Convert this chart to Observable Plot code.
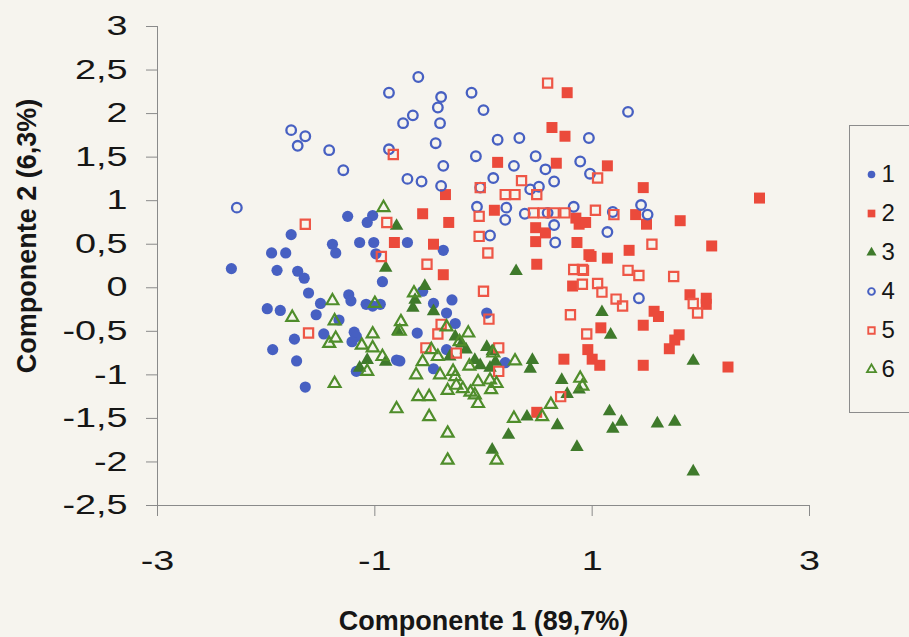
<!DOCTYPE html>
<html>
<head>
<meta charset="utf-8">
<script src="https://cdn.jsdelivr.net/npm/d3@7"></script>
<script src="https://cdn.jsdelivr.net/npm/@observablehq/plot@0.6"></script>
<style>
  html, body { margin: 0; padding: 0; background: #f6f4ee; }
  #wrap { position: relative; width: 909px; height: 637px; overflow: hidden; background: #f6f4ee; font-family: "Liberation Sans", Arial, sans-serif; }
  #chart { position: absolute; left: 0; top: 0; }
  #legend { position: absolute; left: 849px; top: 125px; width: 90px; height: 288px; border: 1px solid #8c8c8c; box-sizing: border-box; background: #f6f4ee; }
</style>
</head>
<body>
<div id="wrap"><div id="chart"></div><div id="legend"></div></div>
<script>
// ---- data ----
const seriesNames = ["1", "2", "3", "4", "5", "6"];
const xTicks = [-3, -1, 1, 3];
const yTicks = [-2.5, -2, -1.5, -1, -0.5, 0, 0.5, 1, 1.5, 2, 2.5, 3];
const xTitle = "Componente 1 (89,7%)";
const yTitle = "Componente 2 (6,3%)";

const s1 = [[-1.25,0.82],[-1.02,0.83],[-1.07,0.75],[-1.77,0.61],[-1.39,0.50],[-1.36,0.40],[-1.14,0.52],[-1.01,0.52],[-0.99,0.39],[-1.95,0.40],[-1.82,0.40],[-2.32,0.22],[-1.90,0.20],[-1.71,0.19],[-1.65,0.11],[-0.93,0.07],
 [-1.61,-0.06],[-1.50,-0.18],[-1.99,-0.24],[-1.87,-0.26],[-1.54,-0.31],[-1.33,-0.37],[-1.74,-0.59],[-1.47,-0.53],[-1.94,-0.71],[-1.72,-0.84],[-1.64,-1.14],[-1.24,-0.08],[-1.22,-0.15],[-1.08,-0.19],[-1.02,-0.21],[-0.95,-0.19],[-1.19,-0.51],[-1.17,-0.56],[-1.21,-0.62],[-1.17,-0.96],[-0.80,-0.83],
 [-0.70,0.52],[-0.37,0.43],[-0.56,-0.04],[-0.46,-0.18],[-0.29,-0.14],[-0.34,-0.29],[-0.26,-0.41],[-0.61,-0.52],[0.03,-0.29],[-0.34,-0.71],[-0.77,-0.84],[-0.46,-0.93],[0.20,-0.86]];

const s2 = [[0.77,2.24],[0.63,1.84],[0.75,1.74],[0.13,1.44],[0.67,1.43],[-0.35,1.07],[-0.56,0.85],[-0.32,0.75],[0.10,0.89],[-0.82,0.52],[-0.46,0.50],[-0.37,0.15],[0.49,0.27],[0.48,0.69],[0.48,0.53],[0.57,0.63],[0.88,0.73],[0.86,0.52],[0.97,0.38],[0.85,0.80],
 [1.14,1.40],[1.47,1.15],[2.54,1.03],[1.40,0.84],[1.50,0.73],[1.81,0.77],[0.94,0.75],[1.34,0.43],[2.10,0.48],[0.99,0.36],[1.14,0.34],
 [1.90,-0.08],[2.05,-0.12],[2.05,-0.19],[1.57,-0.27],[1.61,-0.33],[1.47,-0.43],[1.08,-0.46],[1.80,-0.54],[1.76,-0.60],[1.71,-0.70],[0.96,-0.71],[1.00,-0.82],[1.07,-0.89],[1.47,-0.89],[2.25,-0.91],
 [0.82,0.02],[0.74,-0.82],[0.49,-1.43]];

const s3 = [[-0.80,0.71],[-0.90,0.23],[0.30,0.19],[-0.79,-0.50],[-1.14,-0.92],[-1.07,-0.83],[-0.90,-0.85],[-0.54,0.02],[-0.63,-0.14],[-0.65,-0.23],[-0.46,-0.27],
 [-0.26,-0.56],[-0.20,-0.64],[-0.16,-0.71],[-0.08,-0.83],[-0.03,-0.89],[0.03,-0.68],[0.08,-0.73],[0.11,-0.85],[0.06,-0.92],[0.45,-0.83],[0.43,-0.93],[0.72,-1.06],[0.88,-1.17],[0.86,-1.83],[-0.31,-0.79],
 [1.09,-0.28],[1.17,-0.54],[1.93,-0.84],[1.16,-1.42],[1.19,-1.62],[1.27,-1.54],[1.60,-1.56],[1.76,-1.54],[1.93,-2.11],[0.40,-1.48],[0.68,-1.58],[0.23,-1.69],[0.08,-1.86],[0.77,-1.22]];

const s4 = [[-0.87,2.24],[-1.77,1.81],[-1.64,1.74],[-1.71,1.63],[-1.42,1.58],[-1.29,1.35],[-0.87,1.59],[-2.27,0.92],
 [-0.60,2.42],[-0.39,2.19],[-0.42,2.07],[-0.11,2.24],[0.00,2.04],[-0.65,1.98],[-0.74,1.89],[-0.40,1.89],[-0.44,1.66],[0.13,1.70],[0.33,1.72],[0.97,1.72],[-0.07,1.51],[0.48,1.51],[-0.37,1.40],[0.28,1.40],[0.57,1.36],[0.89,1.45],[0.09,1.26],[0.65,1.22],[-0.70,1.25],[-0.57,1.22],[-0.39,1.17],[-0.03,1.15],[0.43,1.13],[0.51,1.16],[-0.06,0.93],[0.21,0.92],[0.20,0.78],[0.38,0.85],[0.59,0.86],[0.65,0.72],[0.83,0.93],[0.06,0.60],[0.66,0.52],
 [1.33,2.02],[0.98,1.31],[1.45,0.95],[1.51,0.84],[1.19,0.87],[1.14,0.64],[1.43,-0.12]];

const s5 = [[0.59,2.35],[-0.83,1.53],[-1.64,0.73],[-0.89,0.75],[-0.94,0.36],[0.35,1.23],[0.20,1.07],[0.29,1.07],[-0.03,1.15],[0.49,1.07],[-0.04,0.82],[-0.04,0.59],[0.04,0.40],[-0.52,0.27],[0.46,0.86],[0.55,0.86],[0.65,0.86],[0.75,0.86],[0.83,0.21],[0.91,0.21],
 [1.05,1.26],[1.03,0.89],[1.20,0.84],[1.55,0.50],[0.92,0.20],[1.33,0.20],[1.43,0.14],[1.75,0.13],
 [0.91,0.04],[1.05,0.05],[1.09,-0.05],[1.22,-0.13],[1.28,-0.21],[1.93,-0.18],[1.97,-0.29],[0.95,-0.53],
 [-1.61,-0.52],[0.00,-0.04],[0.80,-0.31],[0.05,-0.36],[-0.42,-0.53],[-0.53,-0.69],[0.14,-0.69],[0.14,-0.96],[0.71,-1.25],[-0.39,-0.42],[-0.25,-0.75]];

const s6 = [[-0.92,0.92],[-1.39,-0.15],[-1.00,-0.18],[-1.76,-0.34],[-1.37,-0.38],[-1.36,-0.58],[-1.42,-0.64],[-1.02,-0.53],[-1.12,-0.66],[-1.02,-0.69],[-0.93,-0.79],[-1.07,-0.96],[-1.37,-1.10],[-0.80,-1.39],
 [-0.64,-0.06],[-0.76,-0.39],[-0.77,-0.50],[-0.14,-0.52],[-0.22,-0.62],[-0.48,-0.71],[-0.42,-0.79],[-0.56,-0.85],[-0.62,-1.00],[-0.40,-1.00],[-0.28,-0.96],[-0.26,-1.02],[-0.13,-0.90],[-0.05,-1.08],
 [0.09,-0.75],[0.06,-1.06],[0.12,-1.10],[-0.25,-1.12],[-0.33,-1.18],[-0.60,-1.25],[-0.50,-1.25],[-0.50,-1.48],[-0.08,-1.23],[-0.05,-1.33],[0.28,-1.50],[0.54,-1.48],[0.62,-1.34],[-0.33,-1.67],[-0.33,-1.98],[0.12,-1.98],[0.89,-1.04],[0.29,-0.84],[0.91,-1.13],
 [-0.34,-0.45],[-0.19,-1.16],[-0.12,-1.20],[0.07,-1.17]];

const seriesData = [s1, s2, s3, s4, s5, s6];

// ---- styles ----
const BLUE = "#4760c2", RED = "#eb4a3b", RED_O = "#ee5646", GREEN = "#3f7a2b", GREEN_O = "#4f8d2b";
const styles = [
  {symbol: "circle",   r: 5.6, fill: BLUE,  stroke: "none", strokeWidth: 0},
  {symbol: "square",   r: 6.2, fill: RED,   stroke: "none", strokeWidth: 0},
  {symbol: "triangle", r: 5.0, fill: GREEN, stroke: "none", strokeWidth: 0},
  {symbol: "circle",   r: 4.8, fill: "none", stroke: BLUE,  strokeWidth: 2.3},
  {symbol: "square",   r: 5.2, fill: "none", stroke: RED_O, strokeWidth: 2.2},
  {symbol: "triangle", r: 4.4, fill: "none", stroke: GREEN_O, strokeWidth: 2.2}
];
const legendScale = [0.68, 0.7, 0.75, 0.7, 0.7, 0.75];

const fmt = d => String(d).replace(".", ",");
const FONT = "'Liberation Sans', Arial, sans-serif";

const dotMarks = seriesData.map((pts, i) =>
  Plot.dot(pts, {x: d => d[0], y: d => d[1], ...styles[i]})
);

const chart = Plot.plot({
  width: 909,
  height: 637,
  marginLeft: 157,
  marginRight: 100,
  marginTop: 26,
  marginBottom: 132,
  style: {background: "transparent", fontFamily: FONT, color: "#161616"},
  x: {domain: [-3, 3]},
  y: {domain: [-2.5, 3]},
  marks: [
    Plot.ruleX([-3], {stroke: "#8a8a8a", strokeWidth: 1}),
    Plot.ruleY([-2.5], {stroke: "#8a8a8a", strokeWidth: 1}),
    Plot.axisY(yTicks, {tickSize: 11, tickPadding: 19, tickFormat: fmt, fontSize: 27, stroke: "#8a8a8a", fill: "#161616", label: null}),
    Plot.axisX(xTicks, {tickSize: 11, tickPadding: 34, tickFormat: fmt, fontSize: 28, stroke: "#8a8a8a", fill: "#161616", label: null}),
    ...dotMarks,
    Plot.text([xTitle], {frameAnchor: "bottom", dy: 116, text: d => d, lineAnchor: "middle", fontWeight: "bold", fontSize: 27, fill: "#161616", ariaLabel: "x-title"}),
    Plot.text([yTitle], {frameAnchor: "left", dx: -130, dy: -30, text: d => d, rotate: -90, textAnchor: "middle", lineAnchor: "middle", fontWeight: "bold", fontSize: 27, fill: "#161616", ariaLabel: "y-title"})
  ]
});
document.getElementById("chart").appendChild(chart);

// ---- legend ----
const legendMarks = [];
seriesNames.forEach((name, i) => {
  const st = styles[i];
  legendMarks.push(Plot.dot([name], {y: d => d, frameAnchor: "left", dx: 21, symbol: st.symbol, r: st.r * legendScale[i], fill: st.fill, stroke: st.stroke, strokeWidth: st.strokeWidth ? st.strokeWidth * 0.85 : 0}));
});
legendMarks.push(Plot.text(seriesNames, {y: d => d, text: d => d, frameAnchor: "left", dx: 31, textAnchor: "start", fontSize: 24, fill: "#161616", ariaLabel: "legend-label"}));
const legend = Plot.plot({
  width: 88, height: 286, margin: 0,
  style: {background: "transparent", fontFamily: FONT},
  y: {type: "point", domain: seriesNames, range: [26, 265], axis: null},
  marks: legendMarks
});
document.getElementById("legend").appendChild(legend);

// ---- horizontal stretching of text, as in the scanned reference ----
function stretch(root, selector, factor) {
  root.querySelectorAll(selector).forEach(t => {
    const w = t.getComputedTextLength();
    if (w > 0) {
      t.setAttribute("textLength", (w * factor).toFixed(1));
      t.setAttribute("lengthAdjust", "spacingAndGlyphs");
    }
  });
}
stretch(chart, 'g[aria-label="y-axis tick label"] text', 1.4);
stretch(chart, 'g[aria-label="x-axis tick label"] text', 1.35);
stretch(chart, 'g[aria-label="x-title"] text', 1.13);
stretch(legend, 'g[aria-label="legend-label"] text', 1.45);
</script>
</body>
</html>
